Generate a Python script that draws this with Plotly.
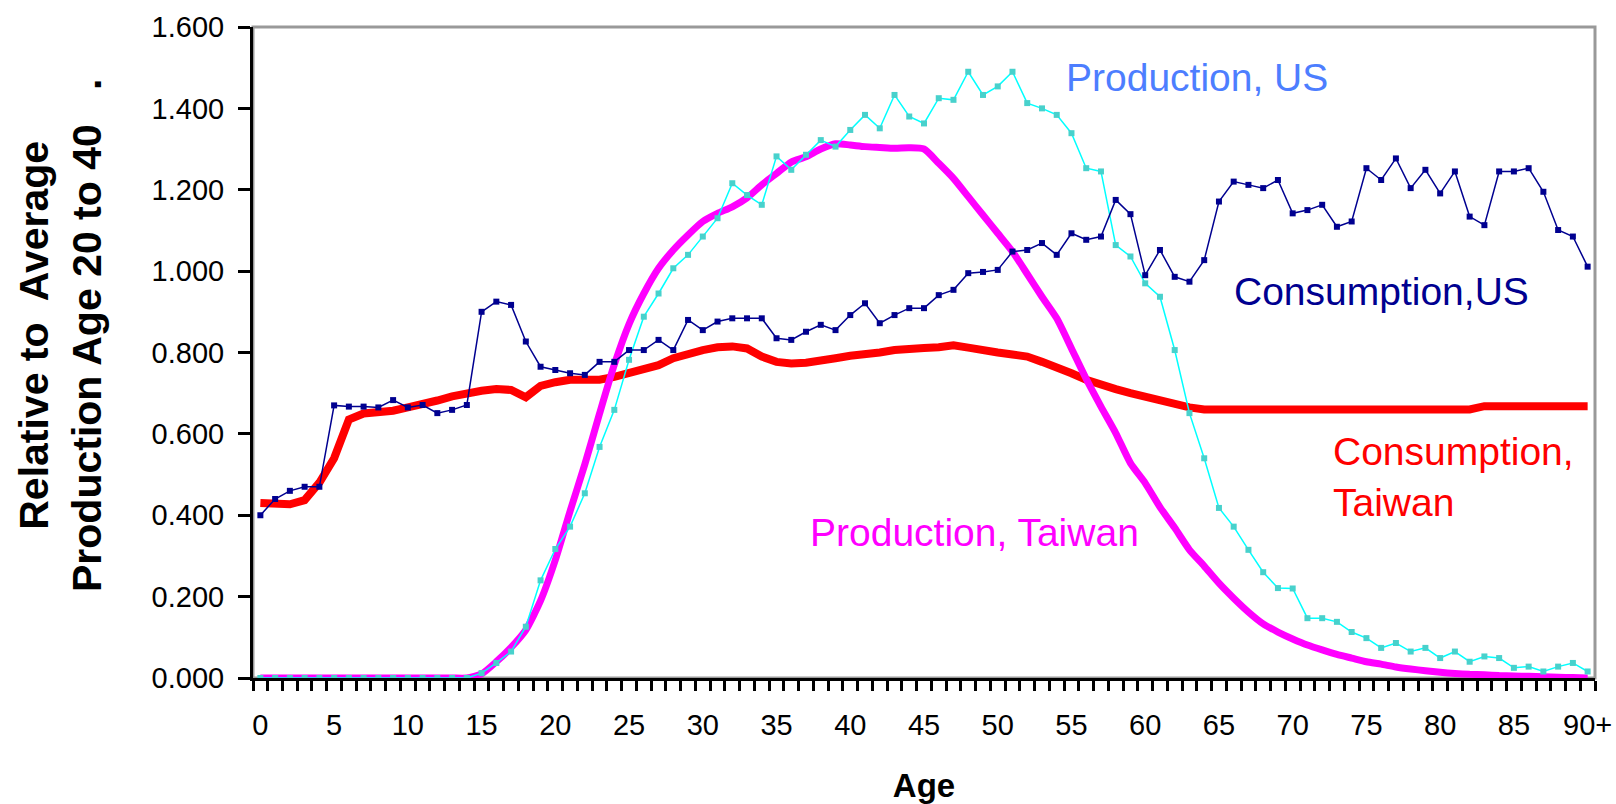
import plotly.graph_objects as go

ages = list(range(0, 91))
tick_vals = list(range(0, 91, 5))
tick_text = [str(v) for v in range(0, 90, 5)] + ["90+"]

consumption_us = [
    0.40, 0.44, 0.46, 0.47, 0.47, 0.67, 0.667, 0.667, 0.665, 0.683,
    0.665, 0.671, 0.651, 0.659, 0.671, 0.90, 0.925, 0.917, 0.827, 0.765,
    0.757, 0.749, 0.745, 0.777, 0.777, 0.806, 0.806, 0.831, 0.806, 0.880,
    0.855, 0.876, 0.884, 0.884, 0.884, 0.835, 0.831, 0.851, 0.868, 0.855,
    0.892, 0.921, 0.872, 0.892, 0.909, 0.909, 0.941, 0.954, 0.995, 0.998,
    1.003, 1.048, 1.052, 1.069, 1.040, 1.093, 1.077, 1.085, 1.175, 1.140,
    0.990, 1.052, 0.986, 0.974, 1.027, 1.171, 1.220, 1.212, 1.204, 1.224,
    1.142, 1.150, 1.163, 1.109, 1.122, 1.253, 1.224, 1.277, 1.204, 1.249,
    1.191, 1.245, 1.134, 1.113, 1.245, 1.245, 1.253, 1.195, 1.101, 1.085,
    1.011,
]

consumption_taiwan = [
    0.430, 0.427, 0.427, 0.437, 0.480, 0.540, 0.635, 0.650, 0.653, 0.657,
    0.665, 0.672, 0.682, 0.692, 0.700, 0.706, 0.710, 0.708, 0.690, 0.718,
    0.727, 0.733, 0.733, 0.733, 0.740, 0.749, 0.757, 0.769, 0.786, 0.798,
    0.806, 0.813, 0.815, 0.810, 0.790, 0.777, 0.773, 0.775, 0.783, 0.786,
    0.792, 0.795, 0.800, 0.806, 0.810, 0.811, 0.813, 0.818, 0.812, 0.808,
    0.800, 0.795, 0.790, 0.777, 0.765, 0.749, 0.733, 0.720, 0.710, 0.700,
    0.690, 0.683, 0.672, 0.665, 0.660, 0.660, 0.660, 0.660, 0.660, 0.660,
    0.660, 0.660, 0.660, 0.660, 0.660, 0.660, 0.660, 0.660, 0.660, 0.660,
    0.660, 0.660, 0.660, 0.668, 0.668, 0.668, 0.668, 0.668, 0.668, 0.668,
    0.668,
]

production_taiwan = [
    0, 0, 0, 0, 0, 0, 0, 0, 0, 0,
    0, 0, 0, 0, 0, 0.010, 0.040, 0.075, 0.118, 0.190,
    0.290, 0.410, 0.525, 0.650, 0.770, 0.870, 0.945, 1.007, 1.052, 1.089,
    1.122, 1.142, 1.158, 1.180, 1.212, 1.240, 1.268, 1.281, 1.300, 1.313,
    1.310, 1.306, 1.304, 1.302, 1.303, 1.300, 1.265, 1.228, 1.183, 1.138,
    1.093, 1.048, 0.993, 0.937, 0.884, 0.810, 0.735, 0.667, 0.602, 0.528,
    0.479, 0.420, 0.369, 0.315, 0.275, 0.233, 0.196, 0.162, 0.133, 0.113,
    0.096, 0.081, 0.069, 0.058, 0.049, 0.040, 0.034, 0.027, 0.022, 0.018,
    0.014, 0.011, 0.009, 0.008, 0.006, 0.005, 0.004, 0.003, 0.002, 0.001,
    0.0,
]

production_us = [
    0, 0, 0, 0, 0, 0, 0, 0, 0, 0,
    0, 0, 0, 0, 0, 0.012, 0.037, 0.065, 0.126, 0.240,
    0.317, 0.372, 0.454, 0.568, 0.659, 0.782, 0.888, 0.945, 1.007, 1.040,
    1.085, 1.130, 1.216, 1.187, 1.163, 1.282, 1.249, 1.286, 1.322, 1.306,
    1.347, 1.384, 1.351, 1.433, 1.380, 1.363, 1.425, 1.421, 1.490, 1.433,
    1.454, 1.490, 1.413, 1.400, 1.384, 1.339, 1.253, 1.245, 1.064, 1.036,
    0.970, 0.937, 0.806, 0.651, 0.540, 0.418, 0.372, 0.315, 0.260, 0.221,
    0.220, 0.147, 0.147, 0.138, 0.113, 0.098, 0.074, 0.086, 0.065, 0.074,
    0.049, 0.065, 0.040, 0.053, 0.049, 0.025, 0.028, 0.016, 0.028, 0.037,
    0.016,
]

FONT = "Arial, 'Liberation Sans', sans-serif"
NAVY = "#000090"
RED = "#FF0000"
MAGENTA = "#FF00FF"
CYAN = "#00FFFF"
TURQ = "#48D1CC"
LABEL_BLUE = "#4D7EFF"

fig = go.Figure()

fig.add_trace(go.Scatter(x=ages, y=consumption_taiwan, mode="lines",
                         line=dict(color=RED, width=8), name="Consumption, Taiwan"))
fig.add_trace(go.Scatter(x=ages, y=production_taiwan, mode="lines",
                         line=dict(color=MAGENTA, width=7, shape="spline", smoothing=0.6),
                         name="Production, Taiwan"))
fig.add_trace(go.Scatter(x=ages, y=production_us, mode="lines+markers",
                         line=dict(color=CYAN, width=1.5),
                         marker=dict(symbol="square", size=6, color=TURQ),
                         name="Production, US"))
fig.add_trace(go.Scatter(x=ages, y=consumption_us, mode="lines+markers",
                         line=dict(color=NAVY, width=1.5),
                         marker=dict(symbol="square", size=6, color=NAVY),
                         name="Consumption, US"))

# gray frame on top / right
fig.add_shape(type="rect", xref="paper", yref="paper", x0=0, x1=1, y0=0, y1=1,
              line=dict(color="#999999", width=3), layer="below")

annotations = [
    dict(text="Production, US", x=63.5, y=1.475, color=LABEL_BLUE, xanchor="center"),
    dict(text="Consumption,US", x=76.0, y=0.950, color=NAVY, xanchor="center"),
    dict(text="Production, Taiwan", x=48.4, y=0.358, color=MAGENTA, xanchor="center"),
    dict(text="Consumption,<br>Taiwan", x=72.6, y=0.495, color=RED, xanchor="left"),
]
for a in annotations:
    fig.add_annotation(x=a["x"], y=a["y"], xref="x", yref="y", text=a["text"],
                       showarrow=False, xanchor=a["xanchor"], yanchor="middle",
                       align="left", font=dict(family=FONT, size=39, color=a["color"]))

fig.add_annotation(
    text="<b>Relative to\u00a0 Average</b><br><b>Production Age 20 to 40\u00a0\u00a0\u00a0.</b>",
    xref="paper", yref="paper", x=(60 - 253) / 1342, y=(678 - 335) / 651,
    xanchor="center", yanchor="middle", textangle=-90, showarrow=False,
    font=dict(family=FONT, size=41, color="black"),
)

fig.update_layout(
    width=1616, height=804,
    margin=dict(l=253, r=21, t=27, b=126),
    paper_bgcolor="white", plot_bgcolor="white",
    showlegend=False,
    font=dict(family=FONT, color="black"),
)

fig.update_xaxes(
    range=[-0.5, 90.5], tickmode="array", tickvals=tick_vals, ticktext=tick_text,
    ticks="outside", ticklen=10, tickcolor="rgba(0,0,0,0)", tickwidth=3,
    ticklabelstandoff=9, automargin=False,
    minor=dict(tickmode="array", tickvals=[i - 0.5 for i in range(0, 92)],
               ticks="outside", ticklen=10, tickwidth=3, tickcolor="black"),
    showline=True, linecolor="black", linewidth=3, showgrid=False, zeroline=False,
    tickfont=dict(family=FONT, size=29, color="black"),
    title=dict(text="<b>Age</b>", font=dict(family=FONT, size=33, color="black"), standoff=41),
)
fig.update_yaxes(
    range=[0, 1.6], tickmode="array", tickvals=[0, 0.2, 0.4, 0.6, 0.8, 1.0, 1.2, 1.4, 1.6],
    tickformat=".3f", ticks="outside", ticklen=12, tickwidth=3, tickcolor="black",
    ticklabelstandoff=8, automargin=False,
    showline=True, linecolor="black", linewidth=3, showgrid=False, zeroline=False,
    tickfont=dict(family=FONT, size=29, color="black"),
)

fig.write_html("out.html", config={"displayModeBar": False},
               post_script="document.body.style.margin='0px';")
